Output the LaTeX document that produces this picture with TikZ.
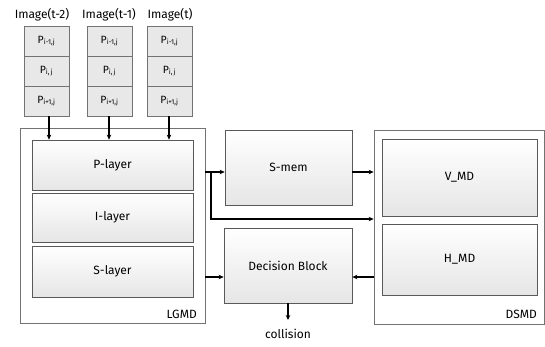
\documentclass[tikz,border=0pt]{standalone}
\usepackage{fontspec}
\setmainfont{Fira Sans}
\usetikzlibrary{shadows,arrows.meta}
\tikzset{
  blk/.style={draw=black!65, line width=0.7pt, top color=white, bottom color=black!10,
    drop shadow={shadow xshift=1.2pt, shadow yshift=-1.2pt, opacity=0.35, fill=black!60},
    font=\fontsize{12}{14}\selectfont, inner sep=0pt},
  frame/.style={draw=black!55, line width=0.8pt, fill=white},
  cell/.style={draw=black!55, line width=0.6pt, fill=black!9, minimum width=45pt,
    minimum height=30pt, inner sep=0pt, font=\fontsize{10.5}{12}\selectfont},
  lbl/.style={font=\fontsize{12}{14}\selectfont, inner sep=0pt},
  arr/.style={-{Stealth[length=5pt,width=4.5pt]}, line width=1.1pt, black}
}
\newcommand{\pij}[1]{P\textsubscript{\fontsize{7}{8}\selectfont #1}}
\begin{document}
\begin{tikzpicture}[x=1pt,y=-1pt]
\useasboundingbox (0,0) rectangle (545,346);

% image stacks
\node[lbl] (img1) at (42,15) {Image(t-2)};
\node[lbl] (img2) at (109,15) {Image(t-1)};
\node[lbl] (img3) at (170,15) {Image(t)};
\foreach \n/\cx in {1/46.5, 2/109.5, 3/169.5}{
  \node[cell] (a\n) at (\cx,41) {\pij{i-1,j}};
  \node[cell] (b\n) at (\cx,71) {\pij{i,\,j}};
  \node[cell] (c\n) at (\cx,101) {\pij{i+1,j}};
}

% outer frames
\node[frame, minimum width=185pt, minimum height=195pt, inner sep=0pt] (lgmd) at (112.5,226) {};
\node[frame, minimum width=170pt, minimum height=194pt, inner sep=0pt] (dsmd) at (459,227) {};
\node[lbl, anchor=south east] (lgmdl) at (197,319) {LGMD};
\node[lbl, anchor=south east] (dsmdl) at (537,319) {DSMD};

% LGMD layers
\node[blk, minimum width=161pt, minimum height=50pt] (pl) at (112.5,165) {P-layer};
\node[blk, minimum width=161pt, minimum height=49pt] (il) at (112.5,217.5) {I-layer};
\node[blk, minimum width=161pt, minimum height=51pt] (sl) at (112.5,271.5) {S-layer};

% middle blocks
\node[blk, minimum width=127pt, minimum height=75pt] (smem) at (288.5,167.5) {S-mem};
\node[blk, minimum width=128pt, minimum height=75pt] (dec) at (288,265.5) {Decision Block};

% DSMD blocks
\node[blk, minimum width=155pt, minimum height=77pt] (vmd) at (459.5,177.5) {V\_MD};
\node[blk, minimum width=155pt, minimum height=71pt] (hmd) at (459.5,259.5) {H\_MD};

% inputs to P-layer
\draw[arr] (c1.south -| 49,0) -- (pl.north -| 49,0);
\draw[arr] (c2.south -| 109,0) -- (pl.north -| 109,0);
\draw[arr] (c3.south -| 169,0) -- (pl.north -| 169,0);

% connections
\coordinate (br) at (211,172);
\draw[arr] (lgmd.east |- br) -- (smem.west |- br);
\draw[arr] (br) |- (dsmd.west |- 0,219);
\draw[arr] (smem.east |- br) -- (dsmd.west |- br);
\draw[arr] (lgmd.east |- 0,277) -- (dec.west |- 0,277);
\draw[arr] (dsmd.west |- 0,277) -- (dec.east |- 0,277);
\coordinate (out) at (288,320);
\draw[arr] (dec.south) -- (out);
\node[lbl] (coll) at (288,334) {collision};
\end{tikzpicture}
\end{document}
